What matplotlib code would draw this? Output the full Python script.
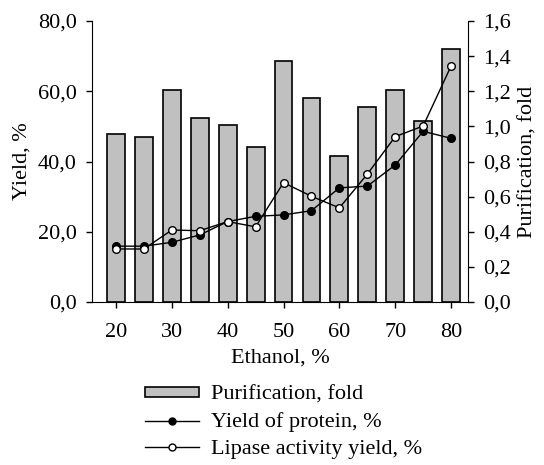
import matplotlib.pyplot as plt
from matplotlib.ticker import FuncFormatter, MultipleLocator
from matplotlib.patches import Patch
from matplotlib.lines import Line2D

plt.rcParams['font.family'] = ['Liberation Serif', 'DejaVu Serif']

ethanol = [20, 25, 30, 35, 40, 45, 50, 55, 60, 65, 70, 75, 80]
purification = [0.955, 0.94, 1.21, 1.05, 1.01, 0.88, 1.37, 1.16, 0.83, 1.11, 1.21, 1.03, 1.44]
protein_yield = [15.9, 15.9, 17.0, 19.1, 22.9, 24.4, 24.8, 26.0, 32.5, 33.0, 39.0, 48.6, 46.6]
lipase_yield = [15.1, 15.1, 20.5, 20.3, 22.9, 21.4, 34.0, 30.1, 26.8, 36.4, 47.1, 50.1, 67.2]

comma = lambda d: FuncFormatter(lambda v, p: f"{v:.{d}f}".replace('.', ','))

fig = plt.figure(figsize=(5.44, 4.65), dpi=100)
ax = fig.add_axes([0.169, 0.3505, 0.691, 0.6043])
ax2 = ax.twinx()

# bars on the right axis, lines drawn above them on the left axis
ax2.bar(ethanol, purification, width=3.2, color='#c0c0c0', edgecolor='black', linewidth=1.2)
ax.set_zorder(ax2.get_zorder() + 1)
ax.patch.set_visible(False)

ax.plot(ethanol, protein_yield, color='black', lw=1, marker='o', ms=5.5, mfc='black', mec='black')
ax.plot(ethanol, lipase_yield, color='black', lw=1, marker='o', ms=5.5, mfc='white', mec='black')

ax.set_xlim(15.7, 83.0)
ax.set_ylim(0, 80)
ax2.set_ylim(0, 1.6)
ax.xaxis.set_major_locator(MultipleLocator(10))
ax.yaxis.set_major_locator(MultipleLocator(20))
ax2.yaxis.set_major_locator(MultipleLocator(0.2))
ax.yaxis.set_major_formatter(comma(1))
ax2.yaxis.set_major_formatter(comma(1))

for a in (ax, ax2):
    a.spines['top'].set_visible(False)
    a.tick_params(direction='out', labelsize=16, length=4, width=1, pad=7)
ax.tick_params(axis='x', pad=11)
ax.spines['right'].set_visible(False)
ax2.spines['left'].set_visible(False)
ax2.spines['bottom'].set_visible(False)

ax.set_xlabel('Ethanol, %', fontsize=16, va='center')
ax.xaxis.set_label_coords(0.5, -0.199)
ax.set_ylabel('Yield, %', fontsize=16, va='center', ha='center')
ax.yaxis.set_label_coords(-0.186, 0.5)
ax2.set_ylabel('Purification, fold', fontsize=16, va='center', ha='center')
ax2.yaxis.set_label_coords(1.160, 0.5)

handles = [
    Patch(facecolor='#c0c0c0', edgecolor='black', linewidth=1.2),
    Line2D([], [], color='black', lw=1, marker='o', ms=5, mfc='black', mec='black'),
    Line2D([], [], color='black', lw=1, marker='o', ms=5, mfc='white', mec='black'),
]
labels = ['Purification, fold', 'Yield of protein, %', 'Lipase activity yield, %']
fig.legend(handles, labels, loc='upper left', bbox_to_anchor=(0.2665, 0.170), frameon=False,
           fontsize=16, handlelength=2.45, handleheight=0.37, labelspacing=0.34, handletextpad=0.5,
           borderpad=0, borderaxespad=0)

fig.savefig('out.png', dpi=100)
